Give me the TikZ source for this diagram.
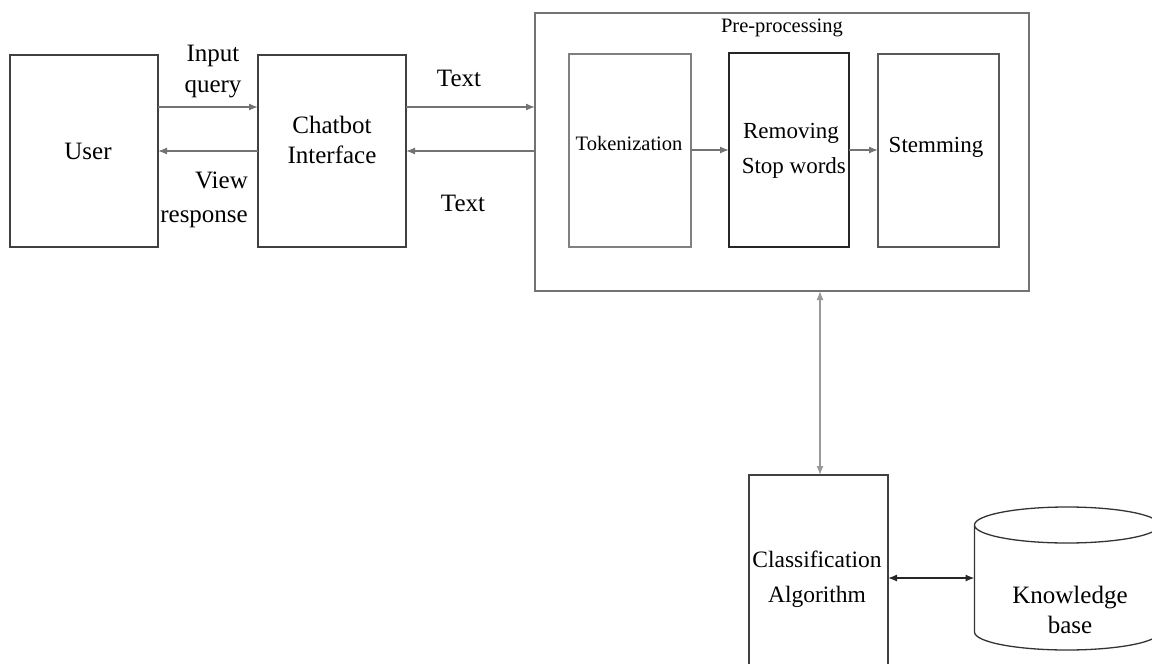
\documentclass[tikz,border=0pt]{standalone}
\usepackage{fontspec}
\setmainfont{Liberation Serif}
\usetikzlibrary{arrows.meta}
\begin{document}
\begin{tikzpicture}[x=1pt,y=-1pt,
  box/.style={draw=black!75, line width=1.3pt, inner sep=0pt, outer sep=0pt},
  tip/.tip={Latex[length=9pt,width=7pt]},
  conn/.style={draw=black!55, line width=1.3pt, -tip},
  conn2/.style={draw=black!55, line width=1.3pt, tip-tip},
  lbl/.style={font=\fontsize{25}{31}\selectfont, align=center, inner sep=0pt},
  every node/.style={text=black}]
\useasboundingbox (0,0) rectangle (1152,664);
\clip (0,0) rectangle (1152,664);
% boxes
\node[box, minimum width=148, minimum height=192] (user) at (84,151) {};
\node[lbl] at (88,151) {User};
\node[box, minimum width=148, minimum height=192] (chat) at (332,151) {};
\node[lbl, font=\fontsize{25}{30}\selectfont] at (332,140) {Chatbot\\Interface};
\node[box, draw=black!55, minimum width=494, minimum height=278] (pre) at (782,152) {};
\node[lbl, font=\fontsize{20.5}{24}\selectfont] at (782,28) {Pre-processing};
\node[box, draw=black!50, minimum width=122, minimum height=193] (tok) at (630,150.5) {};
\node[lbl, font=\fontsize{20.5}{24}\selectfont] at (629,143) {Tokenization};
\node[box, draw=black!85, minimum width=120, minimum height=194] (rem) at (789,150) {};
\node[lbl, font=\fontsize{23}{35}\selectfont] at (791,151) {Removing\\\ Stop words};
\node[box, draw=black!65, minimum width=121, minimum height=193] (stem) at (938.5,150.5) {};
\node[lbl, font=\fontsize{23}{28}\selectfont] at (936,147) {Stemming};
\node[box, minimum width=139, minimum height=230] (cls) at (818.5,590) {};
\node[lbl, font=\fontsize{23.5}{35}\selectfont] at (817,579) {Classification\\Algorithm};
% knowledge base cylinder
\node[inner sep=0pt, outer sep=0pt, minimum width=185, minimum height=143] (kb) at (1067,578.5) {};
\draw[draw=black!80, line width=1.3pt]
  (974.5,525) -- (974.5,632)
  arc[start angle=180, end angle=0, x radius=92.5, y radius=18]
  -- (1159.5,525)
  arc[start angle=0, end angle=-180, x radius=92.5, y radius=18]
  arc[start angle=180, end angle=0, x radius=92.5, y radius=18];
\node[lbl, font=\fontsize{25}{30}\selectfont] at (1070,610) {Knowledge\\base};
% labels on connectors
\node[lbl] at (213,72) {Input\\query};
\node[lbl, align=right, anchor=east, font=\fontsize{25}{34}\selectfont] at (248,200) {View\\response};
\node[lbl] at (459,78) {Text};
\node[lbl] at (463,203) {Text};
% connectors
\draw[conn] (user.east |- 0,107) -- (chat.west |- 0,107);
\draw[conn] (chat.west |- 0,151) -- (user.east |- 0,151);
\draw[conn] (chat.east |- 0,107) -- (pre.west |- 0,107);
\draw[conn] (pre.west |- 0,151) -- (chat.east |- 0,151);
\draw[conn] (tok.east |- 0,150) -- (rem.west |- 0,150);
\draw[conn] (rem.east |- 0,150) -- (stem.west |- 0,150);
\draw[conn2, draw=black!40] (pre.south -| 820,0) -- (cls.north -| 820,0);
\draw[conn2, draw=black!85] (cls.east |- 0,578) -- (kb.west |- 0,578);
\end{tikzpicture}
\end{document}
